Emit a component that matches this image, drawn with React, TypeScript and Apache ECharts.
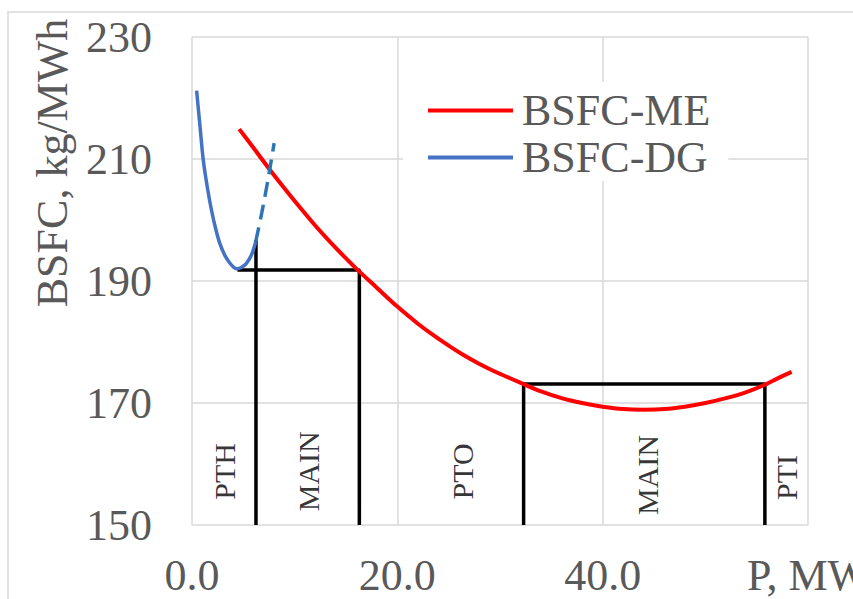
import React, { useEffect, useRef } from "react";
import * as echarts from "echarts";

// BSFC of main engine (ME)
const meX = [4.6, 6, 7.6, 9, 10.2, 12, 13.4, 15, 16.2, 18, 20, 22, 23.2, 25, 26.4, 28, 29.7, 32.3, 34, 36, 38, 40, 42, 44, 46, 48, 50, 52, 54, 55.8, 57, 58.4];
const meY = [214.9, 211.8, 208.2, 205.2, 202.7, 199.1, 196.5, 193.7, 191.7, 188.9, 185.8, 183.0, 181.5, 179.4, 177.9, 176.4, 175.0, 173.1, 171.9, 170.8, 170.0, 169.4, 169.0, 168.9, 169.0, 169.4, 170.0, 170.8, 171.8, 173.0, 174.0, 175.1];

// BSFC of diesel generator (DG), solid part
const dgX = [0.45, 0.8, 1.1, 1.5, 1.9, 2.3, 2.7, 3.2, 3.7, 4.1, 4.4, 4.8, 5.3, 5.8, 6.2];
const dgY = [221.2, 215.0, 209.8, 205.3, 201.6, 198.6, 196.2, 194.2, 192.9, 192.2, 192.0, 192.2, 192.9, 194.3, 196.4];

// DG extrapolated (dashed) part
const dgExtX = [6.2, 6.8, 7.4, 8.0];
const dgExtY = [196.4, 201.2, 206.6, 212.6];

// Black boundary lines
const dgLimitX = [6.23, 6.23];
const dgLimitY = [150, 196.7];
const pthMainX = [4.42, 16.3, 16.3];
const pthMainY = [191.8, 191.8, 150];
const mainBoxX = [32.3, 32.3, 55.8, 55.8];
const mainBoxY = [150, 173.1, 173.1, 150];

// Zone labels
const zoneNames = ["PTH", "MAIN", "PTO", "MAIN", "PTI"];
const zoneX = [3.2, 11.3, 26.3, 44.4, 57.9];
const zoneY = [158.8, 158.8, 158.8, 158.2, 157.8];

const xTicks = [0, 20, 40, 60];
const xTickLabels = ["0.0", "20.0", "40.0", "P, MW"];

const pairs = (xs: number[], ys: number[]) => xs.map((x, i) => [x, ys[i]]);

const FONT = "'Liberation Serif', 'Times New Roman', serif";
const GRAY = "#595959";

export default function App() {
  const ref = useRef<HTMLDivElement>(null);
  useEffect(() => {
    if (!ref.current) return;
    const chart = echarts.init(ref.current, undefined, { renderer: "svg" });
    const black = (name: string, xs: number[], ys: number[]) => ({
      name,
      type: "line",
      data: pairs(xs, ys),
      showSymbol: false,
      symbol: "none",
      lineStyle: { color: "#000", width: 3.5 },
      z: 3,
    });
    chart.setOption({
      animation: false,
      backgroundColor: "#fff",
      grid: { left: 192, top: 37, right: 45, bottom: 74, outerBoundsMode: "none", containLabel: false },
      graphic: [
        {
          type: "rect",
          shape: { x: 8, y: 12, width: 1000, height: 1000 },
          style: { fill: "none", stroke: "#d9d9d9", lineWidth: 1.5 },
          silent: true,
        },
        {
          type: "text",
          x: 52,
          y: 163,
          rotation: Math.PI / 2,
          style: {
            text: "BSFC, kg/MWh",
            fontSize: 44,
            fontFamily: FONT,
            fill: GRAY,
            align: "center",
            verticalAlign: "middle",
          },
        },
      ],
      legend: {
        data: ["BSFC-ME", "BSFC-DG"],
        orient: "vertical",
        left: 403,
        top: 82,
        icon: "rect",
        itemWidth: 85,
        itemHeight: 4,
        itemGap: 0,
        padding: [5, 18, 0, 25],
        backgroundColor: "#fff",
        textStyle: {
          fontSize: 44,
          fontFamily: FONT,
          color: GRAY,
          lineHeight: 47,
          padding: [0, 0, 0, 4],
        },
      },
      xAxis: {
        type: "value",
        min: 0,
        max: 60,
        interval: 20,
        axisLine: { show: false },
        axisTick: { show: false },
        splitLine: { show: true, lineStyle: { color: "#d9d9d9", width: 1.5 } },
        axisLabel: {
          fontSize: 44,
          fontFamily: FONT,
          color: GRAY,
          margin: 28,
          formatter: (v: number) => {
            const i = xTicks.indexOf(v);
            return i >= 0 ? xTickLabels[i] : String(v);
          },
        },
      },
      yAxis: {
        type: "value",
        min: 150,
        max: 230,
        interval: 20,
        axisLine: { show: false },
        axisTick: { show: false },
        splitLine: { show: true, lineStyle: { color: "#d9d9d9", width: 1.5 } },
        axisLabel: {
          fontSize: 44,
          fontFamily: FONT,
          color: GRAY,
          margin: 40,
        },
      },
      series: [
        {
          name: "BSFC-ME",
          type: "line",
          data: pairs(meX, meY),
          showSymbol: false,
          symbol: "none",
          smooth: 0.3,
          lineStyle: { color: "#FF0000", width: 4 },
          itemStyle: { color: "#FF0000" },
          z: 4,
        },
        {
          name: "BSFC-DG",
          type: "line",
          data: pairs(dgX, dgY),
          showSymbol: false,
          symbol: "none",
          smooth: 0.3,
          lineStyle: { color: "#4472C4", width: 3.5 },
          itemStyle: { color: "#4472C4" },
          z: 4,
        },
        {
          name: "BSFC-DG ext",
          type: "line",
          data: pairs(dgExtX, dgExtY),
          showSymbol: false,
          symbol: "none",
          smooth: 0.3,
          lineStyle: { color: "#2E75B6", width: 3.5, type: [15, 8] },
          itemStyle: { color: "#2E75B6" },
          z: 4,
        },
        black("DG limit", dgLimitX, dgLimitY),
        black("PTH/MAIN", pthMainX, pthMainY),
        black("MAIN box", mainBoxX, mainBoxY),
        {
          name: "zones",
          type: "scatter",
          data: zoneX.map((x, i) => [x, zoneY[i], zoneNames[i]]),
          symbolSize: 1,
          itemStyle: { color: "rgba(0,0,0,0)" },
          label: {
            show: true,
            position: "inside",
            rotate: 90,
            formatter: (p: any) => p.value[2],
            fontSize: 30,
            fontFamily: FONT,
            color: "#000",
          },
          z: 5,
        },
      ],
    });
    return () => chart.dispose();
  }, []);
  return (
    <div
      ref={ref}
      style={{ position: "absolute", left: 0, top: 0, width: 853, height: 599 }}
    />
  );
}
